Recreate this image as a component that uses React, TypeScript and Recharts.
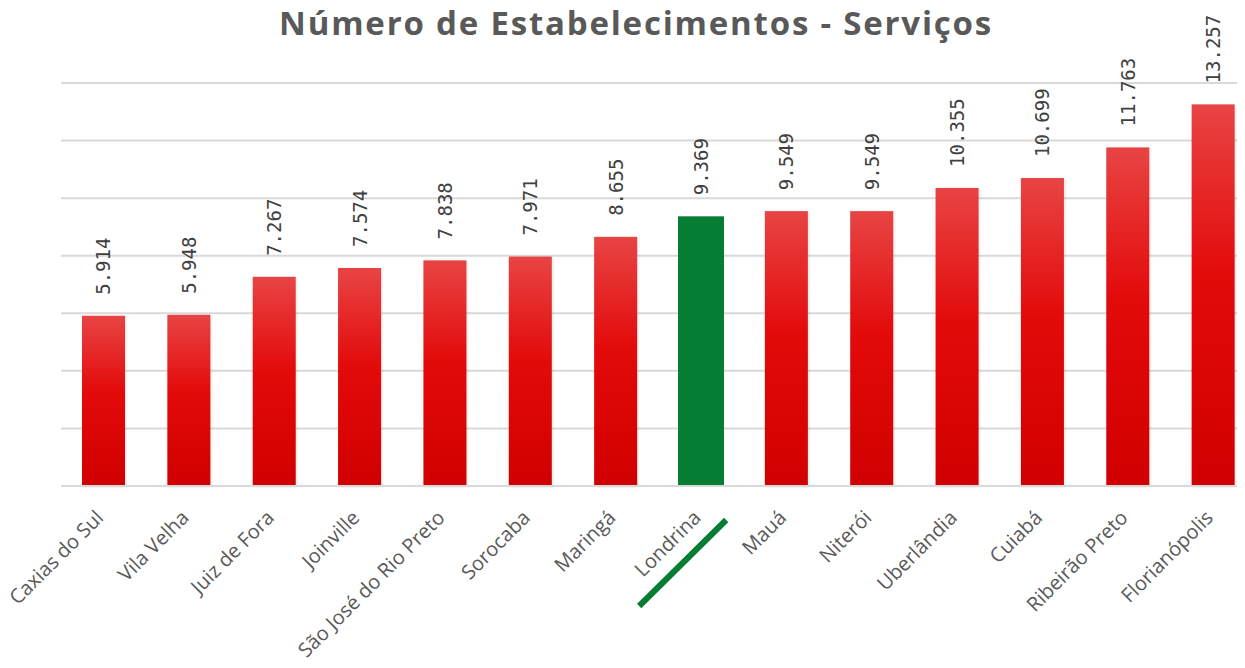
import React from 'react';
import { BarChart, Bar, XAxis, YAxis, CartesianGrid, LabelList } from 'recharts';

const cities = [
  'Caxias do Sul',
  'Vila Velha',
  'Juiz de Fora',
  'Joinville',
  'São José do Rio Preto',
  'Sorocaba',
  'Maringá',
  'Londrina',
  'Mauá',
  'Niterói',
  'Uberlândia',
  'Cuiabá',
  'Ribeirão Preto',
  'Florianópolis',
];
const establishments = [5914, 5948, 7267, 7574, 7838, 7971, 8655, 9369, 9549, 9549, 10355, 10699, 11763, 13257];
const yTicks = [0, 2000, 4000, 6000, 8000, 10000, 12000, 14000];
const highlight = 'Londrina';

const data = cities.map((city, i) => ({ city, value: establishments[i] }));

const fmt = (n: number) => String(n).replace(/\B(?=(\d{3})+(?!\d))/g, '.');

const BarShape = (props: any) => {
  const { x, y, width, height, payload } = props;
  if (payload.city === highlight) {
    return <rect x={x - 1.5} y={y} width={width + 3} height={height} fill="#067D33" />;
  }
  return (
    <g>
      <rect x={x + 1} y={y + 1} width={width} height={height} fill="#000" opacity={0.12} filter="url(#blur)" />
      <rect x={x} y={y} width={width} height={height} fill="url(#redGrad)" />
    </g>
  );
};

const ValueLabel = (props: any) => {
  const { x, y, width, value } = props;
  const cx = x + width / 2;
  const cy = y - 21;
  return (
    <text
      x={cx}
      y={cy}
      transform={`rotate(-90 ${cx} ${cy})`}
      textAnchor="start"
      dominantBaseline="central"
      fontFamily="'DejaVu Sans Mono', monospace"
      fontSize={19}
      fill="#404040"
    >
      {fmt(value)}
    </text>
  );
};

const CityTick = (props: any) => {
  const { x, y, payload } = props;
  return (
    <g transform={`translate(${x},${y})`}>
      <text
        x={1}
        y={25}
        transform="rotate(-45 1 25)"
        textAnchor="end"
        fontFamily="'Open Sans', sans-serif"
        fontSize={20}
        fill="#595959"
      >
        {payload.value}
      </text>
      {payload.value === highlight && (
        <line x1={-62} y1={112} x2={25} y2={26} stroke="#067D33" strokeWidth={6} />
      )}
    </g>
  );
};

export default function App() {
  return (
    <div style={{ margin: -8, width: 1245, height: 668, overflow: 'hidden', position: 'relative', background: '#fff' }}>
      <div
        style={{
          position: 'absolute',
          top: 0,
          left: 0,
          width: 1272,
          textAlign: 'center',
          fontFamily: "'Open Sans', sans-serif",
          fontWeight: 700,
          fontSize: 33,
          color: '#595959',
          letterSpacing: 1.8,
        }}
      >
        Número de Estabelecimentos - Serviços
      </div>
      <BarChart
        width={1265}
        height={668}
        data={data}
        margin={{ top: 83, left: 61, right: 9, bottom: 0 }}
        barSize={43}
      >
        <defs>
          <linearGradient id="redGrad" x1="0" y1="0" x2="0" y2="1">
            <stop offset="0%" stopColor="#E84444" />
            <stop offset="45%" stopColor="#E30A0A" />
            <stop offset="100%" stopColor="#D10000" />
          </linearGradient>
          <filter id="blur" x="-20%" y="-20%" width="140%" height="140%">
            <feGaussianBlur stdDeviation="1.5" />
          </filter>
        </defs>
        <CartesianGrid vertical={false} stroke="#D9D9D9" strokeWidth={2} />
        <YAxis hide domain={[0, 14000]} ticks={yTicks} />
        <XAxis
          dataKey="city"
          interval={0}
          axisLine={{ stroke: '#D9D9D9', strokeWidth: 2 }}
          tickLine={false}
          tick={<CityTick />}
          height={182}
        />
        <Bar dataKey="value" shape={<BarShape />} isAnimationActive={false}>
          <LabelList dataKey="value" content={<ValueLabel />} />
        </Bar>
      </BarChart>
    </div>
  );
}
